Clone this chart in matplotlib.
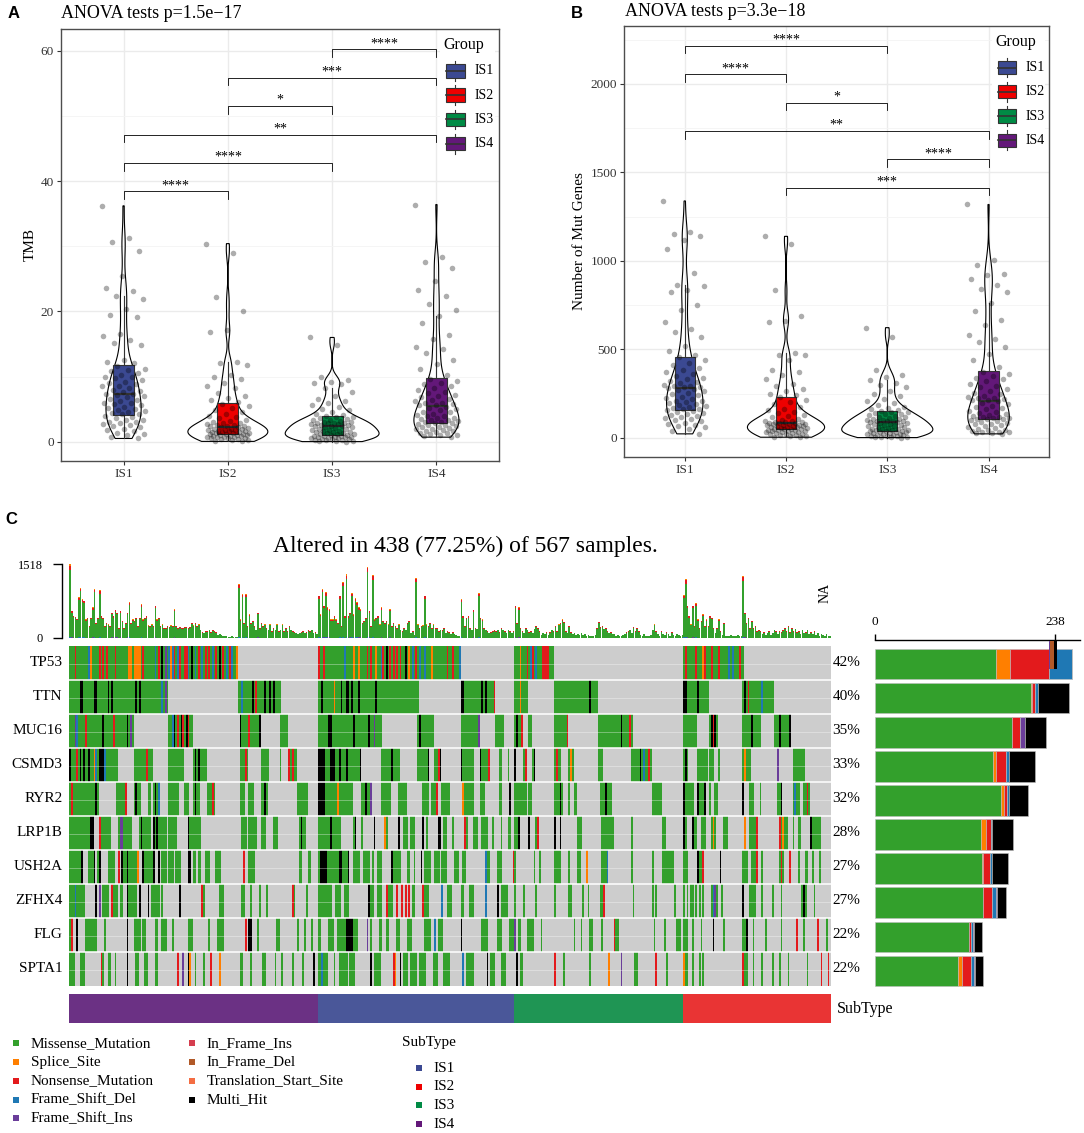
import re
import numpy as np
import matplotlib
matplotlib.use("Agg")
import matplotlib.pyplot as plt
from matplotlib.colors import ListedColormap

plt.rcParams["font.family"] = ["Liberation Serif", "DejaVu Serif"]

W, H = 1084, 1133

# ---------------- panels A / B data ----------------
groups = ["IS1", "IS2", "IS3", "IS4"]
group_colors = ["#3B4992", "#EE0000", "#008B45", "#631879"]

tmb_is1 = [36.2, 31.3, 30.6, 29.2, 25.5, 23.6, 23.2, 22.4, 21.9, 20.3, 19.5, 19.1, 16.5, 16.2,
           15.6, 15.2, 14.9, 12.5, 12.3, 12.1,
           11.6, 11.2, 11.0, 10.9, 10.5, 10.2, 10.0, 9.9, 9.8, 9.5, 9.2, 9.0, 8.8, 8.6, 8.5, 8.3,
           8.0, 7.8, 7.6, 7.4,
           7.3, 7.1, 7.0, 6.8, 6.6, 6.4, 6.2, 6.0, 5.9, 5.8, 5.6, 5.4, 5.2, 5.0, 4.9, 4.7, 4.5,
           4.4, 4.3, 4.2,
           4.0, 3.8, 3.6, 3.4, 3.3, 3.1, 3.0, 2.9, 2.7, 2.5, 2.4, 2.2, 2.0, 1.8, 1.6, 1.4, 1.2,
           1.0, 0.8, 0.5]
tmb_is2 = [30.4, 28.9, 22.2, 20.1, 17.1, 16.9, 12.3, 12.1, 11.8, 10.2, 9.9, 9.6, 9.0, 8.5,
           8.2, 7.5, 7.0, 6.7, 6.4, 6.1,
           5.8, 5.5, 5.2, 4.9, 4.6, 4.3, 4.0, 3.8, 3.6, 3.4, 3.2, 3.0, 2.9, 2.8, 2.7, 2.6, 2.5,
           2.45, 2.4, 2.35,
           2.25, 2.2, 2.1, 2.0, 1.95, 1.9, 1.85, 1.8, 1.75, 1.7, 1.65, 1.6, 1.55, 1.5, 1.45, 1.4,
           1.35, 1.3, 1.25, 1.2,
           1.15, 1.1, 1.05, 1.0, 0.95, 0.9, 0.85, 0.8, 0.75, 0.7, 0.65, 0.6, 0.55, 0.5, 0.45,
           0.4, 0.3, 0.2, 0.1, 0.05]
tmb_is3 = [16.0, 14.8, 9.9, 9.5, 9.2, 9.0, 8.8, 8.2, 7.6, 7.0, 6.6, 6.2, 5.9, 5.6, 5.3, 5.0,
           4.8, 4.5, 4.3, 4.1,
           3.95, 3.85, 3.75, 3.6, 3.5, 3.4, 3.3, 3.2, 3.1, 3.0, 2.95, 2.9, 2.85, 2.8, 2.7, 2.65,
           2.6, 2.5, 2.45, 2.4,
           2.35, 2.3, 2.2, 2.1, 2.0, 1.9, 1.85, 1.8, 1.7, 1.6, 1.55, 1.5, 1.45, 1.4, 1.3, 1.25,
           1.2, 1.15, 1.1, 1.0,
           0.95, 0.9, 0.85, 0.8, 0.75, 0.7, 0.65, 0.6, 0.55, 0.5, 0.45, 0.4, 0.35, 0.3, 0.25,
           0.2, 0.15, 0.1, 0.05, 0.02]
tmb_is4 = [36.4, 28.3, 27.6, 26.6, 24.6, 23.3, 22.4, 21.2, 20.2, 19.3, 18.2, 16.4, 15.8, 14.6,
           14.2, 13.6, 12.6, 12.0, 11.2, 10.2,
           9.6, 9.3, 9.0, 8.8, 8.5, 8.2, 8.0, 7.7, 7.5, 7.2, 7.0, 6.8, 6.6, 6.4, 6.2, 6.0, 5.9,
           5.8, 5.7, 5.6,
           5.4, 5.2, 5.0, 4.8, 4.6, 4.5, 4.3, 4.1, 4.0, 3.9, 3.7, 3.6, 3.5, 3.4, 3.3, 3.2, 3.1,
           3.0, 2.9, 2.85,
           2.7, 2.6, 2.5, 2.4, 2.3, 2.2, 2.1, 2.0, 1.9, 1.8, 1.7, 1.6, 1.5, 1.4, 1.3, 1.2, 1.1,
           1.0, 0.9, 0.7]

genes_is1 = [1338, 1165, 1150, 1140, 1118, 1068, 932, 862, 856, 835, 826, 752, 720, 652, 612,
             598, 570, 520, 490, 470,
             455, 440, 425, 410, 395, 385, 372, 360, 350, 340, 330, 322, 315, 308, 300, 295, 290,
             287, 284, 281,
             278, 270, 262, 255, 248, 240, 232, 225, 218, 210, 205, 200, 195, 190, 185, 180, 175,
             170, 165, 161,
             155, 150, 145, 140, 135, 128, 122, 116, 110, 104, 98, 92, 86, 80, 74, 68, 60, 52, 40, 22]
genes_is2 = [1138, 1095, 832, 688, 662, 655, 478, 470, 466, 440, 382, 372, 352, 330, 305, 290,
             275, 262, 250, 240,
             228, 215, 200, 188, 176, 165, 155, 146, 138, 130, 122, 115, 108, 102, 97, 93, 90, 88,
             87, 86,
             84, 82, 80, 78, 76, 74, 72, 70, 68, 66, 64, 62, 60, 58, 56, 54, 52, 51, 50, 49,
             46, 44, 42, 40, 38, 36, 34, 32, 30, 28, 26, 24, 22, 20, 18, 15, 12, 9, 6, 3]
genes_is3 = [622, 568, 382, 352, 342, 325, 312, 300, 285, 265, 250, 235, 220, 205, 195, 185, 175,
             168, 162, 157,
             152, 148, 144, 140, 136, 132, 128, 124, 120, 116, 112, 108, 105, 102, 99, 97, 95, 93,
             92, 91,
             88, 85, 82, 79, 76, 73, 70, 67, 64, 61, 58, 55, 52, 50, 48, 46, 44, 42, 40, 39,
             36, 34, 32, 30, 28, 26, 24, 22, 20, 18, 16, 14, 12, 10, 8, 6, 5, 4, 2, 1]
genes_is4 = [1318, 1002, 978, 928, 918, 898, 862, 843, 826, 762, 718, 668, 638, 578, 558, 540,
             512, 475, 440, 400,
             372, 360, 350, 340, 330, 318, 305, 295, 285, 275, 265, 255, 245, 238, 232, 226, 222,
             218, 214, 211,
             205, 198, 190, 182, 175, 168, 160, 153, 146, 140, 134, 128, 123, 119, 115, 112, 110,
             108, 107, 106,
             100, 95, 90, 85, 80, 75, 70, 65, 60, 55, 50, 46, 42, 38, 35, 32, 30, 28, 25, 22]

tmb_tests = [(1, 2, "****"), (1, 3, "****"), (1, 4, "**"), (2, 3, "*"), (2, 4, "***"), (3, 4, "****")]
genes_tests = [(2, 4, "***"), (3, 4, "****"), (1, 4, "**"), (2, 3, "*"), (1, 2, "****"), (1, 3, "****")]

# ---------------- panel C data ----------------
genes = ["TP53", "TTN", "MUC16", "CSMD3", "RYR2", "LRP1B", "USH2A", "ZFHX4", "FLG", "SPTA1"]
gene_pct = ["42%", "40%", "35%", "33%", "32%", "28%", "27%", "27%", "22%", "22%"]
subtype_order = ["IS4", "IS1", "IS3", "IS2"]
subtype_sizes = [143, 113, 97, 85]
subtype_fill = {"IS1": "#4a5799", "IS2": "#e93434", "IS3": "#1f9554", "IS4": "#6b3184"}

# mutation codes per sample: m missense, s splice, n nonsense, d fs-del, i fs-ins, k multi-hit
is4_cells = [
    "0-96 3n 11d 12s 17n 19n 21n 26n 34-35s 37-40s 42n 49d 51n 53k 55i 57d 58s 59d 60n 62d 63n "
    "66-67n 68d 70k 72d 74n 76d 78n 80n 82d 84n 86k 88n 90d 92n 93d 96s",
    "0-56 6k 7k 14-15k 22k 24k 38k 40k 53d 55i 97-121 99d 105k 107n 112k 115k 117k",
    "0-36 3i 4d 9n 19k 25n 33k 35i 57-70 59d 60k 62n 64k 65n 67k 68n 98-109 98k 103n 109k 121-125",
    "0-27 0k 4n 6k 8k 11k 14s 15d 17-19k 20d 37-47 44n 57-65 71-78 72k 74k 98-102 101n 110-114 "
    "121 126-130 126n 128n",
    "0-16 1n 15k 27-32 32n 37-40 38k 45-46 48-51 49k 51d 57-62 66-68 71-74 72k 79-83 82n 98-100 "
    "103-105 110-113 112k 131-136",
    "0-13 12-13k 17-23 17n 28-32 29-30i 33-35 40-43 41k 43-46 48-51 48k 50k 52-55 57-61 68-70 68k "
    "71-73 74-75 99-101 103-107 110-112 117-119 132-135 133k",
    "0-7 7k 11-13 14k 16-17 17k 22-25 28n 30k 31-32 33k 34-38 39s 42k 43-48 48k 51k 53-55 57-59 "
    "61-63 68k 69k 71-72 74-75 78-80 84-86 100n 103-106 132-133 137-138",
    "0-8 3d 15k 17i 19-22 24n 25-27 29-30 33k 34-38 40k 45k 47-51 53 63k 76n 77 86-88 99-100 104 "
    "109 113 128n 129 136",
    "0-1 1n 4k 9-15 20 33k 37-40 42-43 49-50 53-55 59 68-70 80 85-88 101n 103-104k 108 119-120 "
    "131 135 139",
    "0-2 6-8 18n 19 22-23 26 33k 38-39 43-44 49-50 62n 65i 68k 69s 72 77 81n 86s 98-99 104 "
    "111-112 118 122 128 134 140k",
]
is1_cells = [
    "0-81 0n 3n 15d 20s 23s 28n 30n 33s 36d 37n 39k 41n 43n 45n 47n 50k 52s 54d 56n 58d 61d 65s "
    "74n 77n 81d",
    "0-57 2k 9s 13k 16-17k 19k 23k 33k 82-101 82-83k 94k 96k 101n",
    "0-36 6-7k 20k 29k 32i 57-66 58k 82-91 92i 102-106",
    "0-24 0-3k 7-9k 12k 16k 24k 36-46 42k 57-63 63k 67-70 69n 70k 82-89 82k 93-98 93k 98n "
    "104-105 109",
    "0-19 0-3k 11s 25-30 27k 30i 36-41 46-50 60-63 65-67 68n 71-75 83-89 83s 93-95 104-105 110k",
    "0-12 7k 20-21 21k 25 32k 38s 39 46k 49-51 53-55 60k 62 69-70k 72-73 77 84n 85 89-91 94-97 "
    "100 105 109-110",
    "0-7 1-4k 8-11 12-13k 14-16 17k 20-23 26-29 31 34-36 42k 43-47 51-52 55 59k 61-64 67-69 "
    "71-73 78-80 83-84 96d 97-98 103-105 112n",
    "0-7 10-12 15-17 29k 30-31 34-36 39n 40-42 45n 48n 50n 52n 54-55 60n 61-63 71d 74-76 82-83 "
    "87-89 96d 103k 105-108",
    "0-1 6-8 11-15 16-19k 20-22 28i 30 35-36 39-40 45-46 51-53 61-64 67d 69-71 82k 94-97 103-105 "
    "110-112",
    "0-1 2d 3-5 9 12-16 18-20 30k 32-35 43n 44s 47k 49-51 53-56 58-61 66-68 72-75 83d 85-89 97k "
    "99-101 105-107",
]
is3_cells = [
    "0-22 3s 7n 9d 10n 12d 16-19n",
    "0-7 3s 23-47 43k",
    "0-4 1k 4n 8-9 23-30 30n 48-67 61k 66n",
    "0k 5-6 6n 10-11 11k 23-26 24n 31-33 32s 48-50 67-78 72k 74d 77n",
    "0-6 8-9 23-27 26k 31 34-35 49-55 52k 79-84",
    "0-2 2k 8k 12-13 13n 23k 26k 36-38 50-56 67 85-86",
    "0 11 14 23-26 31 36-37 41s 50-52 53d 67 79 85-91",
    "0 5 12 23 31-32 39 42 49-51 51n 68 79 81 92",
    "0i 2-3 7-10 15 34 38 43-44 50 57n 58-59 80 86 93-95",
    "1k 3-4 23n 28 43 54s 61i 69-70 81n 87",
]
is2_cells = [
    "0-34 1n 7n 11s 12n 16n 20n 26d 28d 32n",
    "0-14 0-1k 8k 34-51 35k 37n 45d",
    "0-7 15-19 16k 17n 18k 34-44 39k 52-61 55k 61k",
    "0-2 1k 8-13 15-17 20 34-38 35s 54i 63-69",
    "0-5 0k 8-12 8k 12k 15 18-19 34k 38-40 44 54-56 56k 63-66 64d 69-72 71n",
    "0-1 0k 5k 6-7 10-12 16-18 17s 23-25 35s 38-40 41-42 42n 55-59 55n 57s 63 66-67 73k 74-78",
    "0-2 8k 9-10 11n 21k 34-36 39-42 42n 45 55-57 56n 61n 66 70-71 74 78",
    "0 2 4-5 7 9 11 16-19 17d 18i 22 34k 38-41 45 51 56 68-70 69k 75",
    "0 1-2 5 10 17k 23 34-36 36k 40 47 56 65n 69 77n 82",
    "0s 1-2 5 9 11 34n 35-36 40 45 51 55 60 71 79n 83n",
]

# mutation burden per sample (top bar plot), same sample order
burden_is4 = [1518, 560, 460, 440, 400, 840, 1036, 805, 770, 385, 420, 245, 420, 630, 1015, 315,
              420, 980, 455, 420, 245, 315, 280, 245, 525, 455, 580, 525, 210, 560, 350, 210, 315,
              525, 735, 315, 385, 350, 420, 245, 420, 700, 385, 420, 455, 260, 245, 280, 245, 665,
              385, 420, 245, 280, 210, 210, 245, 230, 260, 245, 595, 245, 210, 230, 210, 210, 225,
              230, 210, 230, 315, 260, 315, 245, 280, 175, 120, 105, 140, 140, 175, 120, 160, 140,
              120, 70, 90, 70, 50, 35, 50, 30, 20, 35, 15, 20, 15, 1120, 385, 910, 315, 910, 245,
              490, 315, 350, 245, 175, 525, 210, 315, 245, 280, 210, 175, 280, 140, 210, 175, 280,
              140, 175, 280, 140, 210, 140, 245, 175, 140, 120, 105, 90, 105, 120, 140, 105, 120,
              160, 140, 175, 105, 120, 90]
burden_is1 = [875, 490, 1015, 665, 945, 630, 595, 385, 385, 455, 385, 315, 875, 245, 1155, 455,
              1310, 455, 525, 930, 490, 820, 735, 630, 595, 315, 350, 420, 1470, 560, 245, 1295,
              385, 420, 455, 280, 630, 350, 315, 350, 280, 595, 245, 315, 245, 210, 280, 175, 140,
              210, 175, 315, 350, 105, 140, 70, 1240, 280, 210, 245, 260, 875, 280, 245, 315, 210,
              280, 210, 210, 140, 175, 160, 210, 105, 140, 120, 90, 120, 90, 70, 50, 50, 805, 455,
              245, 420, 455, 210, 175, 580, 210, 190, 930, 420, 385, 210, 175, 140, 105, 120, 140,
              160, 140, 175, 120, 210, 175, 140, 105, 175, 140, 105, 140]
burden_is3 = [665, 315, 630, 210, 140, 105, 210, 175, 120, 140, 105, 190, 245, 210, 140, 70, 105,
              90, 120, 70, 120, 175, 140, 245, 140, 280, 315, 385, 330, 140, 105, 245, 120, 90,
              105, 70, 90, 70, 105, 63, 90, 50, 70, 50, 35, 50, 70, 210, 330, 230, 245, 190, 210,
              140, 105, 120, 90, 90, 50, 70, 35, 50, 70, 90, 120, 140, 175, 105, 230, 140, 210,
              140, 70, 50, 90, 50, 35, 50, 70, 175, 280, 140, 90, 50, 140, 90, 70, 120, 90, 50,
              120, 70, 50, 90, 70, 50, 70]
burden_is2 = [890, 1211, 665, 455, 280, 665, 245, 720, 385, 210, 350, 490, 245, 385, 245, 455,
              420, 210, 105, 210, 385, 140, 70, 315, 35, 50, 35, 70, 50, 35, 50, 70, 35, 50, 1280,
              525, 315, 420, 210, 350, 210, 245, 140, 160, 140, 90, 120, 70, 105, 140, 70, 105,
              175, 140, 90, 140, 120, 160, 210, 140, 245, 120, 210, 140, 190, 120, 140, 90, 175,
              105, 120, 175, 90, 120, 90, 140, 70, 105, 50, 90, 70, 50, 90, 35, 50]

vc_names = ["Missense_Mutation", "Splice_Site", "Nonsense_Mutation", "Frame_Shift_Del",
            "Frame_Shift_Ins", "In_Frame_Ins", "In_Frame_Del", "Translation_Start_Site", "Multi_Hit"]
vc_colors = {"Missense_Mutation": "#33A02C", "Splice_Site": "#FF7F00",
             "Nonsense_Mutation": "#E31A1C", "Frame_Shift_Del": "#1F78B4",
             "Frame_Shift_Ins": "#6A3D9A", "In_Frame_Ins": "#D53E4F",
             "In_Frame_Del": "#B15928", "Translation_Start_Site": "#F46D43",
             "Multi_Hit": "#000000"}
vc_codes = {"m": "Missense_Mutation", "s": "Splice_Site", "n": "Nonsense_Mutation",
            "d": "Frame_Shift_Del", "i": "Frame_Shift_Ins", "e": "In_Frame_Ins",
            "f": "In_Frame_Del", "t": "Translation_Start_Site", "k": "Multi_Hit"}
burden_class_share = [("Frame_Shift_Del", 0.015), ("Frame_Shift_Ins", 0.005),
                      ("Missense_Mutation", 0.905), ("Nonsense_Mutation", 0.055),
                      ("Splice_Site", 0.02)]

# right bar plot: variant counts per gene
class_counts = {
    "Missense_Mutation": [160, 206, 181, 156, 167, 140, 141, 143, 124, 110],
    "Splice_Site": [18, 2, 0, 3.5, 3, 6.6, 2.2, 0, 0, 5.7],
    "Nonsense_Mutation": [52, 4, 11, 14, 4.8, 6.6, 8.4, 12.3, 3.5, 11.9],
    "Frame_Shift_Del": [30, 3.5, 0, 4.4, 3, 1.3, 3, 4.4, 1.8, 3.1],
    "Frame_Shift_Ins": [0, 0, 6.6, 0, 0, 0, 0, 2.2, 2.2, 1.3],
    "Multi_Hit": [0, 40.5, 27.3, 34.4, 25, 28.2, 21.6, 11.9, 10.1, 11],
}
tp53_overlay = [("Frame_Shift_Ins", 230, 2), ("In_Frame_Del", 232, 5), ("Multi_Hit", 237, 4)]
count_axis_max = 238


def px_axes(fig, x0, y0, x1, y1):
    return fig.add_axes([x0 / W, 1 - y1 / H, (x1 - x0) / W, (y1 - y0) / H])


def kde(values, grid):
    n = len(values)
    q75, q25 = np.percentile(values, [75, 25])
    bw = 0.9 * min(values.std(ddof=1), (q75 - q25) / 1.34) * n ** -0.2
    z = (grid[:, None] - values[None, :]) / bw
    return np.exp(-0.5 * z ** 2).sum(axis=1) / (n * bw * np.sqrt(2 * np.pi))


def violin_panel(ax, series, yticks, ylabel, tests, labelpad):
    data = [np.asarray(s, float) for s in series]
    top = max(d.max() for d in data)

    grids = [np.linspace(d.min(), d.max(), 300) for d in data]
    dens = [kde(d, g) for d, g in zip(data, grids)]
    scale = 0.45 / max(dd.max() for dd in dens)
    for i, (g, dd) in enumerate(zip(grids, dens), start=1):
        xs = np.concatenate([i - dd * scale, (i + dd * scale)[::-1]])
        ys = np.concatenate([g, g[::-1]])
        ax.fill(xs, ys, facecolor="none", edgecolor="black", lw=0.8, zorder=2)

    bp = ax.boxplot(data, positions=range(1, 5), widths=0.2, patch_artist=True,
                    showfliers=False, showcaps=False, manage_ticks=False, zorder=3,
                    boxprops=dict(edgecolor="#333333", lw=0.8),
                    whiskerprops=dict(color="#333333", lw=0.8),
                    medianprops=dict(color="#333333", lw=1.6))
    for patch, c in zip(bp["boxes"], group_colors):
        patch.set_facecolor(c)

    for i, d in enumerate(data, start=1):
        offs = ((np.arange(len(d)) * 0.618034) % 1 - 0.5) * 0.42
        ax.scatter(i + offs, d, s=16, color="black", alpha=0.32, lw=0, zorder=4)

    tick = 0.032 * top
    for k, (a, b, label) in enumerate(tests):
        y = top * (1.055 + 0.12 * k)
        ax.plot([a, a, b, b], [y - tick, y, y, y - tick], color="black", lw=0.6, zorder=5)
        ax.annotate(label, ((a + b) / 2, y), xytext=(0, 1.5), textcoords="offset points",
                    ha="center", va="baseline", fontsize=10)

    ax.set_xlim(0.4, 4.6)
    ax.set_ylim(-0.08 * top, 1.74 * top)
    step = yticks[1] - yticks[0]
    ax.set_yticks(yticks)
    ax.set_yticks(np.arange(step / 2, 1.74 * top, step), minor=True)
    ax.set_xticks(range(1, 5))
    ax.set_xticklabels(groups)
    ax.grid(True, which="major", color="#EBEBEB", lw=1.0, zorder=0)
    ax.grid(True, which="minor", axis="y", color="#F4F4F4", lw=0.6, zorder=0)
    ax.set_axisbelow(True)
    for sp in ax.spines.values():
        sp.set_color("#4d4d4d")
        sp.set_linewidth(1.0)
    ax.tick_params(which="major", length=3, color="#333333", labelsize=9.5,
                   labelcolor="#333333", pad=2)
    ax.tick_params(which="minor", length=0)
    ax.set_ylabel(ylabel, fontsize=11, labelpad=labelpad)

    # legend
    ax.add_patch(plt.Rectangle((0.865, 0.70), 0.125, 0.29, transform=ax.transAxes,
                               facecolor="white", edgecolor="none", zorder=1))
    ax.text(0.873, 0.963, "Group", transform=ax.transAxes, fontsize=11.5, va="center",
            ha="left", zorder=6)
    for j, (g, c) in enumerate(zip(groups, group_colors)):
        yc = 1 - (0.097 + 0.0563 * j)
        ax.plot([0.9, 0.9], [yc - 0.023, yc + 0.023], transform=ax.transAxes,
                color="#333333", lw=0.8, zorder=6)
        ax.add_patch(plt.Rectangle((0.879, yc - 0.0155), 0.043, 0.031, transform=ax.transAxes,
                                   facecolor=c, edgecolor="#333333", lw=0.8, zorder=7))
        ax.plot([0.879, 0.922], [yc, yc], transform=ax.transAxes, color="#333333",
                lw=1.2, zorder=8)
        ax.text(0.945, yc, g, transform=ax.transAxes, fontsize=10, va="center",
                ha="left", zorder=8)


def decode(spec, n):
    row = np.full(n, ".", dtype="<U1")
    for tok in spec.split():
        m = re.fullmatch(r"(\d+)(?:-(\d+))?([a-z]?)", tok)
        a = int(m.group(1))
        b = int(m.group(2) or a)
        row[a:min(b, n - 1) + 1] = m.group(3) or "m"
    return row


fig = plt.figure(figsize=(W / 100, H / 100), dpi=100)

# ---------------- A ----------------
ax_a = px_axes(fig, 61, 29, 499, 460.7)
violin_panel(ax_a, [tmb_is1, tmb_is2, tmb_is3, tmb_is4], [0, 20, 40, 60], "TMB",
             tmb_tests, 3)
fig.text(61 / W, 1 - 13 / H, "ANOVA tests p=1.5e\u221217", fontsize=13, va="center")
fig.text(8 / W, 1 - 14 / H, "A", fontsize=12, fontweight="bold", family="Liberation Sans",
         va="center")

# ---------------- B ----------------
ax_b = px_axes(fig, 624, 25.7, 1049.3, 456.7)
violin_panel(ax_b, [genes_is1, genes_is2, genes_is3, genes_is4], [0, 500, 1000, 1500, 2000],
             "Number of Mut Genes", genes_tests, 3)
fig.text(625 / W, 1 - 11 / H, "ANOVA tests p=3.3e\u221218", fontsize=13, va="center")
fig.text(571 / W, 1 - 14 / H, "B", fontsize=12, fontweight="bold", family="Liberation Sans",
         va="center")

# ---------------- C ----------------
fig.text(5 / W, 1 - 519 / H, "C", fontsize=12, fontweight="bold", family="Liberation Sans",
         va="center")
fig.text(465 / W, 1 - 546 / H, "Altered in 438 (77.25%) of 567 samples.", fontsize=17,
         ha="center", va="center")

n_samples = sum(subtype_sizes)
blocks = [is4_cells, is1_cells, is3_cells, is2_cells]
cells = np.array([np.concatenate([decode(b[r], n) for b, n in zip(blocks, subtype_sizes)])
                  for r in range(len(genes))])
burden = np.array(burden_is4 + burden_is1 + burden_is3 + burden_is2, float)

# top bar plot
ax_top = px_axes(fig, 69.3, 564.3, 831, 638)
x = np.arange(n_samples) + 0.5
base = np.zeros(n_samples)
for cls, share in burden_class_share:
    h = burden * share
    ax_top.bar(x, h, bottom=base, width=0.9, color=vc_colors[cls], lw=0)
    base += h
ax_top.set_xlim(0, n_samples)
ax_top.set_ylim(0, 1518)
for s in ["top", "right", "bottom"]:
    ax_top.spines[s].set_visible(False)
ax_top.spines["left"].set_position(("outward", 5.5))
ax_top.spines["left"].set_linewidth(1.0)
ax_top.set_xticks([])
ax_top.set_yticks([0, 1518])
ax_top.tick_params(axis="y", length=6.3, width=1.0, labelsize=9, pad=7)
ax_top.text(n_samples - 3.5, 930, "NA", rotation=90, fontsize=10, ha="center", va="center")

# oncoplot matrix
code_keys = ["."] + list(vc_codes)
cmap = ListedColormap(["#CDCDCD"] + [vc_colors[vc_codes[k]] for k in vc_codes])
idx = np.vectorize(code_keys.index)(cells)
ax_m = px_axes(fig, 69.3, 645.7, 831, 985.7)
ax_m.pcolormesh(np.arange(n_samples + 1), np.arange(len(genes) + 1), idx, cmap=cmap,
                vmin=-0.5, vmax=len(code_keys) - 0.5, edgecolors="none", antialiased=False)
ax_m.hlines(np.arange(1, len(genes)), 0, n_samples, color="white", lw=1.1)
ax_m.hlines(np.arange(len(genes)) + 0.55, 0, n_samples, color="white", lw=0.6, alpha=0.4)
ax_m.set_xlim(0, n_samples)
ax_m.set_ylim(len(genes), 0)
ax_m.axis("off")
for r, (g, p) in enumerate(zip(genes, gene_pct)):
    ax_m.text(-4, r + 0.5, g, ha="right", va="center", fontsize=11)
    ax_m.text(n_samples + 0.8, r + 0.5, p, ha="left", va="center", fontsize=11)

# subtype annotation
sub_idx = np.repeat(np.arange(len(subtype_order)), subtype_sizes)[None, :]
ax_s = px_axes(fig, 69.3, 994.3, 831, 1023.3)
ax_s.pcolormesh(np.arange(n_samples + 1), [0, 1], sub_idx,
                cmap=ListedColormap([subtype_fill[s] for s in subtype_order]),
                vmin=-0.5, vmax=3.5, edgecolors="none", antialiased=False)
ax_s.set_xlim(0, n_samples)
ax_s.set_ylim(1, 0)
ax_s.axis("off")
ax_s.text(n_samples + 3.5, 0.5, "SubType", ha="left", va="center", fontsize=11.5)

# right bar plot
ax_r = px_axes(fig, 875, 646.8, 1080, 988.2)
rows = np.arange(len(genes)) + 0.5
left = np.zeros(len(genes))
for cls, vals in class_counts.items():
    vals = np.asarray(vals, float)
    ax_r.barh(rows, vals, left=left, height=0.9, color=vc_colors[cls],
              edgecolor="#BDBDBD", lw=0.4)
    left += vals
for cls, start, width in tp53_overlay:
    ax_r.barh(0.24, width, left=start, height=0.84, color=vc_colors[cls], lw=0,
              clip_on=False, zorder=5)
ax_r.set_xlim(0, 271.2)
ax_r.set_ylim(len(genes), 0)
for s in ["bottom", "right", "left"]:
    ax_r.spines[s].set_visible(False)
ax_r.spines["top"].set_position(("outward", 4.9))
ax_r.spines["top"].set_linewidth(1.0)
ax_r.set_yticks([])
ax_r.xaxis.set_ticks_position("top")
ax_r.set_xticks([0, count_axis_max])
ax_r.tick_params(axis="x", length=4.3, width=1.0, labelsize=9.5, pad=4)

# bottom legends
ax_l = px_axes(fig, 0, 1030, W, H)
ax_l.set_xlim(0, W)
ax_l.set_ylim(H, 1030)
ax_l.axis("off")
for j, name in enumerate(vc_names):
    col, row = divmod(j, 5)
    xs, ys = 16.3 + 176 * col, 1043.3 + 18.75 * row
    ax_l.scatter(xs, ys, marker="s", s=20, color=vc_colors[name], lw=0)
    ax_l.text(xs + 14.3, ys, name, ha="left", va="center", fontsize=11)
ax_l.text(401.8, 1042.7, "SubType", ha="left", va="center", fontsize=11)
for j, g in enumerate(groups):
    ys = 1068 + 18.67 * j
    ax_l.scatter(419, ys, marker="s", s=20, color=group_colors[j], lw=0)
    ax_l.text(433.2, ys, g, ha="left", va="center", fontsize=11)

fig.savefig("out.png", dpi=100)
